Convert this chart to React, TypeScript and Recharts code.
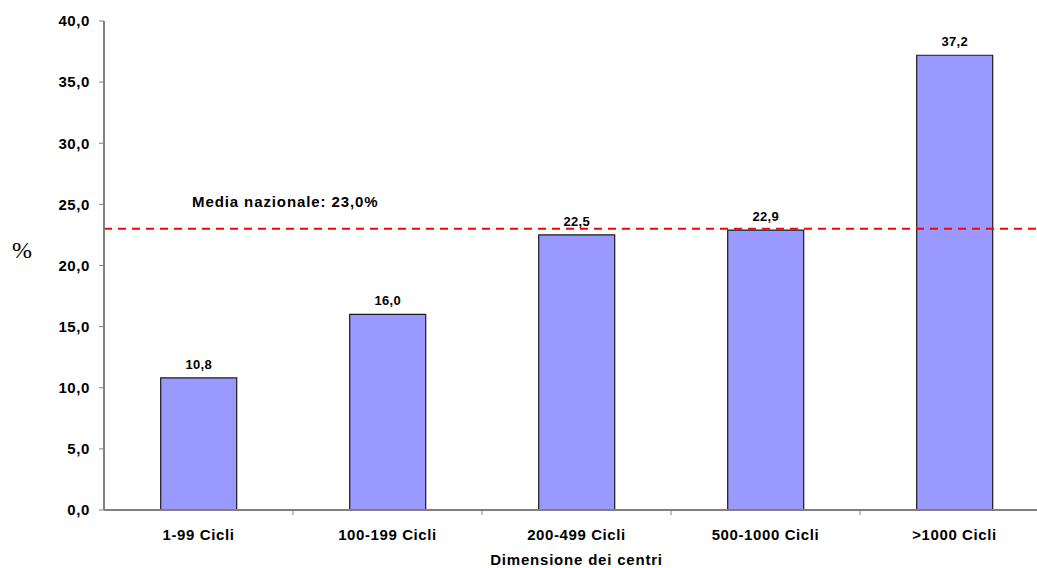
import { Bar, BarChart, LabelList, ReferenceLine, XAxis, YAxis } from "recharts";

const categories = ["1-99 Cicli", "100-199 Cicli", "200-499 Cicli", "500-1000 Cicli", ">1000 Cicli"];
const values = [10.8, 16.0, 22.5, 22.9, 37.2];
const yTicks = [0, 5, 10, 15, 20, 25, 30, 35, 40];
const mediaNazionale = 23.0;

const data = categories.map((name, i) => ({ name, value: values[i] }));

const FONT = '"Liberation Sans", Arial, Helvetica, sans-serif';
const AXIS_GRAY = "#808080";
const X_TICK_SIZE = 5;
const X_TICK_MARGIN = 14;

const fmt = (v: number) => v.toFixed(1).replace(".", ",");

function CategoryTick(props: any) {
  const { x, y, payload } = props;
  const half = payload?.offset ?? 0;
  const axisY = y - X_TICK_MARGIN - X_TICK_SIZE;
  return (
    <g>
      <line x1={x + half} x2={x + half} y1={axisY} y2={axisY + X_TICK_SIZE} stroke={AXIS_GRAY} strokeWidth={1} />
      <text
        x={x}
        y={y}
        dy="0.71em"
        textAnchor="middle"
        fill="#000"
        fontSize={15}
        fontWeight="bold"
        letterSpacing={0.6}
        fontFamily={FONT}
      >
        {payload.value}
      </text>
      {payload.index === 2 && (
        // axis title, centred under the middle category
        <text
          x={x}
          y={axisY + 55}
          textAnchor="middle"
          fill="#000"
          fontSize={15}
          fontWeight="bold"
          letterSpacing={0.8}
          fontFamily={FONT}
        >
          Dimensione dei centri
        </text>
      )}
    </g>
  );
}

export default function App() {
  return (
    <div style={{ position: "absolute", left: 0, top: 0, width: 1037, height: 568, overflow: "hidden", background: "#fff" }}>
      <BarChart
        width={1049}
        height={568}
        data={data}
        margin={{ top: 21, right: 0, left: 0, bottom: 0 }}
        barCategoryGap="30%"
      >
        <XAxis
          dataKey="name"
          height={58}
          axisLine={{ stroke: AXIS_GRAY, strokeWidth: 2 }}
          tickLine={false}
          tickSize={X_TICK_SIZE}
          tickMargin={X_TICK_MARGIN}
          interval={0}
          tick={<CategoryTick />}
        />
        <YAxis
          width={104}
          domain={[0, 40]}
          ticks={yTicks}
          interval={0}
          tickFormatter={fmt}
          axisLine={{ stroke: AXIS_GRAY, strokeWidth: 2 }}
          tickLine={{ stroke: AXIS_GRAY }}
          tickSize={5}
          tickMargin={9}
          tick={{ fill: "#000", fontSize: 15, fontWeight: "bold", fontFamily: FONT, letterSpacing: 0.6 }}
          label={{
            content: () => (
              <text x={22} y={258} textAnchor="middle" fill="#000" fontSize={24} fontFamily='"Liberation Serif", "Times New Roman", serif'>
                %
              </text>
            ),
          }}
        />
        <Bar dataKey="value" fill="#9999FF" stroke="#1a1a1a" strokeWidth={1.2} isAnimationActive={false}>
          <LabelList
            dataKey="value"
            position="top"
            offset={9}
            formatter={(v: any) => fmt(Number(v))}
            fill="#000"
            fontSize={13}
            fontWeight="bold"
            fontFamily={FONT}
            letterSpacing={0.3}
          />
        </Bar>
        <ReferenceLine
          y={mediaNazionale}
          stroke="#FF0000"
          strokeWidth={2}
          strokeDasharray="8 6"
          label={{
            content: (p: any) => {
              const vb = p.viewBox || { x: 104, y: 229 };
              return (
                <text
                  x={vb.x + 88}
                  y={vb.y - 22}
                  fill="#000"
                  fontSize={15}
                  fontWeight="bold"
                  letterSpacing={0.9}
                  fontFamily={FONT}
                >
                  {"Media nazionale: " + fmt(mediaNazionale) + "%"}
                </text>
              );
            },
          }}
        />
      </BarChart>
    </div>
  );
}
